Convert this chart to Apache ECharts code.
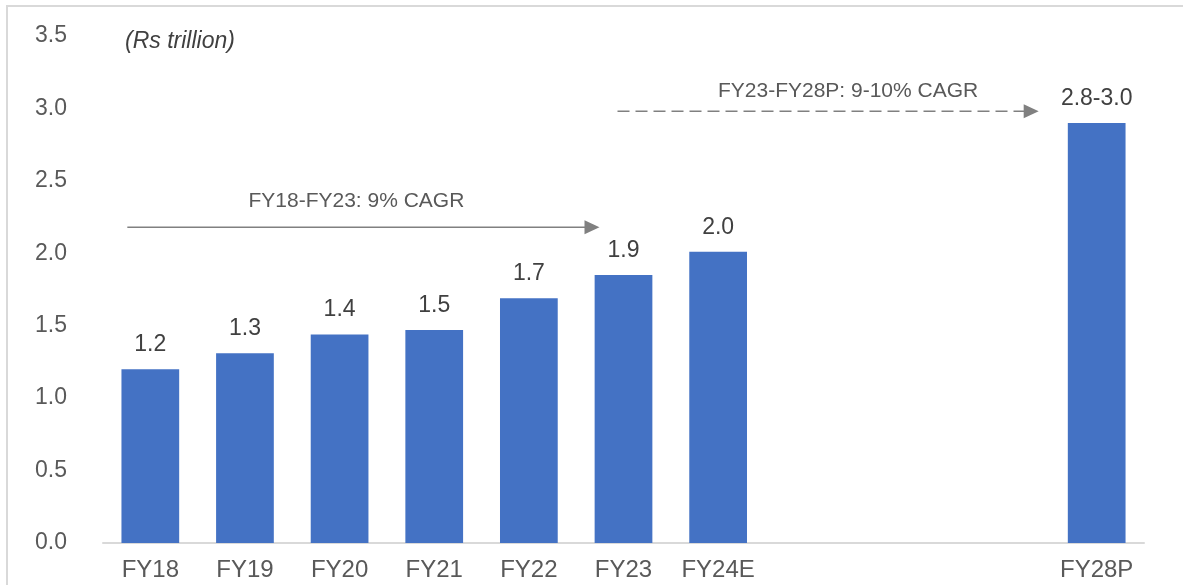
<!DOCTYPE html>
<html>
<head>
<meta charset="utf-8">
<script src="https://cdn.jsdelivr.net/npm/echarts@6/dist/echarts.min.js"></script>
<style>
html, body { margin:0; padding:0; background:#fff; }
#chart { width:1183px; height:585px; }
</style>
</head>
<body>
<div id="chart"></div>
<script>
// categories (three blank slots between FY24E and FY28P)
var years = ['FY18', 'FY19', 'FY20', 'FY21', 'FY22', 'FY23', 'FY24E', '', '', '', 'FY28P'];
var values = [1.2, 1.31, 1.44, 1.47, 1.69, 1.85, 2.01, null, null, null, 2.9];
var barLabels = ['1.2', '1.3', '1.4', '1.5', '1.7', '1.9', '2.0', '', '', '', '2.8-3.0'];
var yTicks = [0, 0.5, 1.0, 1.5, 2.0, 2.5, 3.0, 3.5];

// CAGR arrows
var arrowFrom = ['FY18', 'FY23'];
var arrowTo = ['FY23', 'FY28P'];
var arrowLevel = [2.18, 2.98];
var arrowText = ['FY18-FY23: 9% CAGR', 'FY23-FY28P: 9-10% CAGR'];
var arrowDashed = [false, true];

var chart = echarts.init(document.getElementById('chart'));

var option = {
	animation: false,
	backgroundColor: '#fff',
	grid: { left: 103, right: 39, top: 36, bottom: 42 },
	xAxis: {
		type: 'category',
		data: years,
		axisLine: { lineStyle: { color: '#d9d9d9', width: 2 } },
		axisTick: { show: false },
		axisLabel: {
			interval: 0,
			color: '#595959',
			fontSize: 24,
			fontFamily: 'Liberation Sans, Arial, sans-serif',
			margin: 15
		}
	},
	yAxis: {
		type: 'value',
		min: yTicks[0],
		max: yTicks[yTicks.length - 1],
		interval: 0.5,
		splitLine: { show: false },
		axisLine: { show: false },
		axisTick: { show: false },
		axisLabel: {
			color: '#595959',
			fontSize: 23,
			fontFamily: 'Liberation Sans, Arial, sans-serif',
			margin: 36,
			formatter: function (v) { return v.toFixed(1); }
		}
	},
	series: [{
		type: 'bar',
		data: values,
		barWidth: '61%',
		itemStyle: { color: '#4472C4' },
		label: {
			show: true,
			position: 'top',
			distance: 13,
			color: '#404040',
			fontSize: 23,
			fontFamily: 'Liberation Sans, Arial, sans-serif',
			formatter: function (p) { return barLabels[p.dataIndex]; }
		}
	}]
};
chart.setOption(option);

// annotations placed from the axes
var graphics = [
	{ type: 'rect', shape: { x: 7, y: 6, width: 1300, height: 700 }, style: { fill: null, stroke: '#d9d9d9', lineWidth: 2 }, silent: true },
	{ type: 'text', left: 125, top: 30, style: { text: '(Rs trillion)', font: 'italic 23px "Liberation Sans", Arial, sans-serif', fill: '#404040' } }
];
var offsets = [[-23, -24], [-6, -58]];
var textShift = [[-7, -26], [20, -20]];
for (var i = 0; i < arrowText.length; i++) {
	var p1 = chart.convertToPixel({ seriesIndex: 0 }, [arrowFrom[i], arrowLevel[i]]);
	var p2 = chart.convertToPixel({ seriesIndex: 0 }, [arrowTo[i], arrowLevel[i]]);
	var x1 = p1[0] + offsets[i][0];
	var x2 = p2[0] + offsets[i][1];
	var y = p1[1];
	graphics.push({
		type: 'line',
		shape: { x1: x1, y1: y, x2: x2 - 13, y2: y },
		style: { stroke: '#808080', lineWidth: 1.5, lineDash: arrowDashed[i] ? [12, 6] : null }
	});
	graphics.push({
		type: 'polygon',
		shape: { points: [[x2 - 15, y - 7], [x2, y], [x2 - 15, y + 7]] },
		style: { fill: '#808080' }
	});
	graphics.push({
		type: 'text',
		x: (x1 + x2) / 2 + textShift[i][0],
		y: y + textShift[i][1],
		style: {
			text: arrowText[i],
			font: '21px "Liberation Sans", Arial, sans-serif',
			fill: '#595959',
			align: 'center',
			verticalAlign: 'middle'
		}
	});
}
chart.setOption({ graphic: graphics });
</script>
</body>
</html>
